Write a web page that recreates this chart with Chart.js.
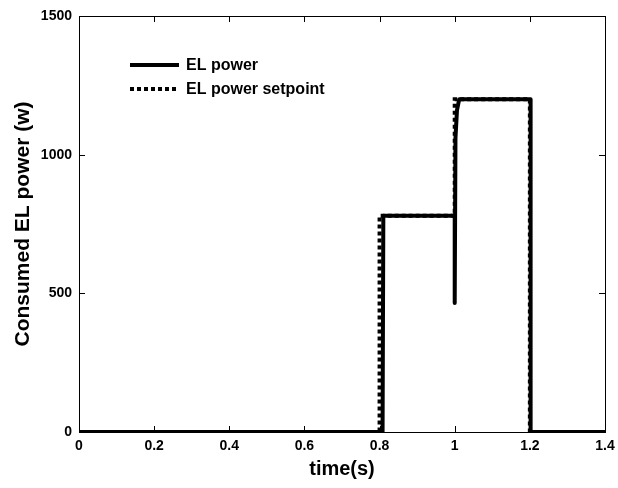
<!DOCTYPE html>
<html>
<head>
<meta charset="utf-8">
<script src="https://cdn.jsdelivr.net/npm/chart.js@4/dist/chart.umd.min.js"></script>
<style>
  html, body { margin: 0; padding: 0; background: #fff; }
  #wrap { width: 618px; height: 488px; }
</style>
</head>
<body>
<div id="wrap"><canvas id="myChart" width="618" height="488"></canvas></div>
<script>
// ── Data ─────────────────────────────────────
const powerTime     = [0, 0.808, 0.81, 1.0, 1.0, 1.002, 1.006, 1.012, 1.202, 1.202, 1.4];
const powerValues   = [0, 0, 780, 780, 465, 1060, 1160, 1200, 1200, 0, 0];
const setpointTime   = [0, 0.8, 0.8, 1.0, 1.0, 1.2, 1.2, 1.4];
const setpointValues = [0, 0, 780, 780, 1200, 1200, 0, 0];
const xTickLabels = ['0', '0.2', '0.4', '0.6', '0.8', '1', '1.2', '1.4'];
const yTickLabels = ['0', '500', '1000', '1500'];
const seriesNames = ['EL power', 'EL power setpoint'];

const FONT = "'Liberation Sans', Arial, Helvetica, sans-serif";

function toPoints(xs, ys) {
  return xs.map((x, i) => ({ x, y: ys[i] }));
}

// MATLAB-style box, inward ticks and legend
const matlabFrame = {
  id: 'matlabFrame',
  afterDatasetsDraw(chart) {
    const { ctx, chartArea: a, scales } = chart;
    const len = 6;
    ctx.save();
    ctx.strokeStyle = '#000';
    ctx.lineWidth = 1;
    ctx.beginPath();
    scales.x.ticks.forEach(t => {
      const px = Math.round(scales.x.getPixelForValue(t.value)) + 0.5;
      ctx.moveTo(px, a.bottom); ctx.lineTo(px, a.bottom - len);
      ctx.moveTo(px, a.top);    ctx.lineTo(px, a.top + len);
    });
    scales.y.ticks.forEach(t => {
      const py = Math.round(scales.y.getPixelForValue(t.value)) + 0.5;
      ctx.moveTo(a.left, py);  ctx.lineTo(a.left + len, py);
      ctx.moveTo(a.right, py); ctx.lineTo(a.right - len, py);
    });
    ctx.stroke();
    ctx.strokeRect(Math.round(a.left) + 0.5, Math.round(a.top) + 0.5,
                   Math.round(a.right - a.left), Math.round(a.bottom - a.top));

    // legend
    const lx = a.left + 51, ly = a.top + 49, gap = 24;
    ctx.lineWidth = 4;
    ctx.lineCap = 'butt';
    chart.data.datasets.forEach((ds, i) => {
      const y = ly + i * gap;
      ctx.setLineDash(ds.borderDash || []);
      ctx.beginPath();
      ctx.moveTo(lx, y); ctx.lineTo(lx + 49, y);
      ctx.stroke();
      ctx.setLineDash([]);
      ctx.fillStyle = '#000';
      ctx.font = 'bold 16px ' + FONT;
      ctx.textBaseline = 'middle';
      ctx.fillText(ds.label, lx + 56, y + 1);
    });
    ctx.restore();
  }
};

new Chart(document.getElementById('myChart').getContext('2d'), {
  type: 'line',
  data: {
    datasets: [
      {
        label: seriesNames[0],
        data: toPoints(powerTime, powerValues),
        borderColor: '#000',
        borderWidth: 4,
        borderJoinStyle: 'round',
        pointRadius: 0,
        tension: 0
      },
      {
        label: seriesNames[1],
        data: toPoints(setpointTime, setpointValues),
        borderColor: '#000',
        borderWidth: 4,
        borderDash: [4, 3],
        pointRadius: 0,
        tension: 0
      }
    ]
  },
  options: {
    responsive: false,
    animation: false,
    layout: { padding: { top: 16, right: 13, left: 0, bottom: 0 } },
    plugins: { legend: { display: false }, tooltip: { enabled: false } },
    scales: {
      x: {
        type: 'linear',
        min: 0, max: 1.4,
        border: { display: false },
        grid: { display: false, drawTicks: false },
        ticks: {
          stepSize: 0.2,
          padding: 6,
          color: '#000',
          font: { family: FONT, size: 14, weight: 'bold' },
          callback: (v, i) => xTickLabels[i]
        },
        title: {
          display: true, text: 'time(s)', color: '#000',
          font: { family: FONT, size: 20, weight: 'bold' },
          padding: { top: 2, bottom: 7 }
        },
        afterFit: s => { s.height = 56; s.paddingLeft = 0; s.paddingRight = 0; }
      },
      y: {
        min: 0, max: 1500,
        border: { display: false },
        grid: { display: false, drawTicks: false },
        ticks: {
          stepSize: 500,
          padding: 7,
          color: '#000',
          font: { family: FONT, size: 14, weight: 'bold' },
          callback: (v, i) => yTickLabels[i]
        },
        title: {
          display: true, text: 'Consumed EL power (w)', color: '#000',
          font: { family: FONT, size: 21, weight: 'bold' },
          padding: { top: 11, bottom: 0 }
        },
        afterFit: s => { s.width = 79; s.paddingTop = 0; s.paddingBottom = 0; }
      }
    }
  },
  plugins: [matlabFrame]
});
</script>
</body>
</html>
